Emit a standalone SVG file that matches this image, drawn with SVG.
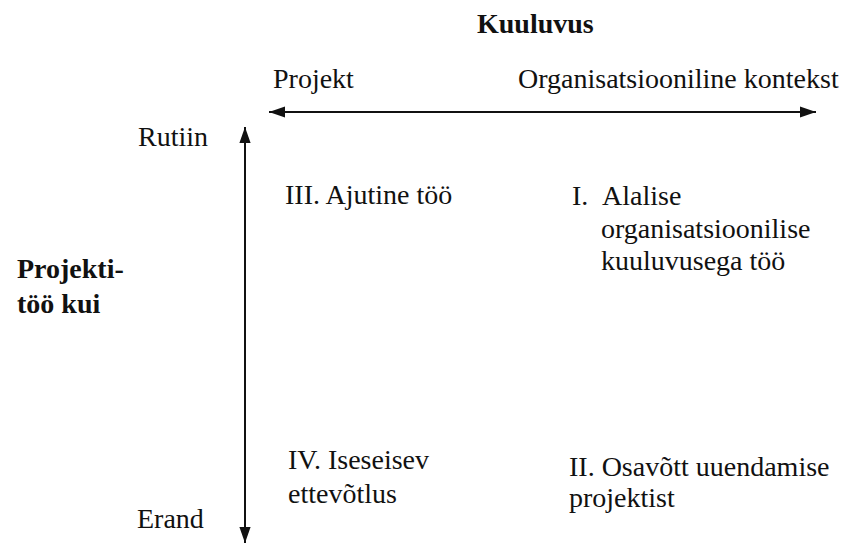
<svg xmlns="http://www.w3.org/2000/svg" width="844" height="544" viewBox="0 0 844 544">
<style>
text{font-family:'Times New Roman','Liberation Serif',serif;font-size:28px;fill:#111}
.b{font-weight:bold}
.ax{stroke:#111;stroke-width:2;fill:none}
</style>
<defs>
<marker id="ah" viewBox="0 0 10 10" refX="10" refY="5" markerWidth="8" markerHeight="8" markerUnits="strokeWidth" orient="auto-start-reverse">
<path d="M0,1.5 L10,5 L0,8.5 z" fill="#111"/>
</marker>
</defs>
<rect width="844" height="544" fill="#fff"/>
<g id="connectors">
<line class="ax" x1="269" y1="112" x2="816" y2="112" marker-start="url(#ah)" marker-end="url(#ah)"/>
<line class="ax" x1="245" y1="127" x2="245" y2="543" marker-start="url(#ah)" marker-end="url(#ah)"/>
</g>
<g id="title"><text class="b" x="477" y="33">Kuuluvus</text></g>
<g id="projekt"><text x="273" y="88">Projekt</text></g>
<g id="org"><text x="518" y="88">Organisatsiooniline kontekst</text></g>
<g id="rutiin"><text x="138" y="146">Rutiin</text></g>
<g id="erand"><text x="137" y="528">Erand</text></g>
<g id="ylabel"><text class="b" x="17" y="278">Projekti-</text><text class="b" x="17" y="313">töö kui</text></g>
<g id="q3"><text x="285" y="204">III. Ajutine töö</text></g>
<g id="q1"><text x="572" y="205">I.</text><text x="602" y="205">Alalise</text><text x="601" y="238">organisatsioonilise</text><text x="601" y="270">kuuluvusega töö</text></g>
<g id="q4"><text x="288" y="469">IV. Iseseisev</text><text x="288" y="503">ettevõtlus</text></g>
<g id="q2"><text x="569" y="476">II. Osavõtt uuendamise</text><text x="569" y="507">projektist</text></g>
</svg>
